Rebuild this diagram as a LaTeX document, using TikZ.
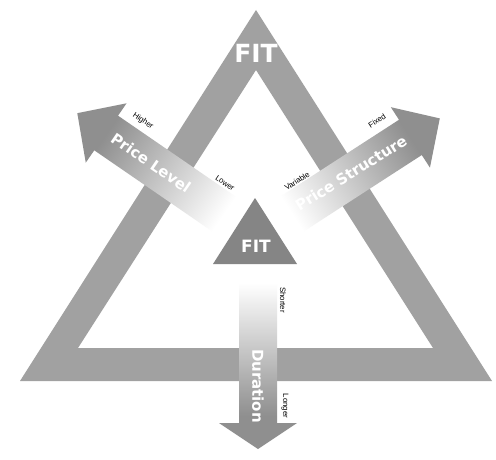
\documentclass[tikz,border=0pt]{standalone}
\usepackage{fontspec}
\setmainfont{DejaVu Sans}
\newfontfamily\labelfont{Liberation Sans}
\definecolor{bandgray}{HTML}{A1A1A1}
\definecolor{coregray}{HTML}{858585}
\definecolor{arrowgray}{HTML}{8F8F8F}
\pgfdeclarehorizontalshading{arrowfade}{100bp}{color(0bp)=(white); color(25bp)=(white); color(65bp)=(arrowgray); color(100bp)=(arrowgray)}
\begin{document}
\begin{tikzpicture}[x=1pt,y=-1pt,
  bigtxt/.style={text=white, font=\bfseries\fontsize{15}{15}\selectfont, inner sep=0pt},
  fitbig/.style={text=white, font=\bfseries\fontsize{25}{25}\selectfont, inner sep=0pt},
  fitsmall/.style={text=white, font=\bfseries\fontsize{17}{17}\selectfont, inner sep=0pt},
  tag/.style={text=black, font=\labelfont\fontsize{7.8}{7.8}\selectfont, fill=white, inner sep=0.5pt}]
\fill[white] (0,0) rectangle (496,460);
% outer FIT band
\fill[bandgray, even odd rule] (256,10) -- (20,381) -- (492,381) -- cycle
  (256,70) -- (78,348) -- (433,348) -- cycle;
% inner FIT triangle
\fill[coregray] (255,198) -- (213,264) -- (297,264) -- cycle;
% Price Level arrow
\begin{scope}[transform canvas={shift={(224,214)},rotate=145.5}]
\shade[shading=arrowfade] (0,-21) -- (143,-21) -- (143,-36) -- (178,0) -- (143,36) -- (143,21) -- (0,21) -- cycle;
\end{scope}
% Price Structure arrow
\begin{scope}[transform canvas={shift={(292,214)},rotate=32.9}]
\shade[shading=arrowfade] (0,-21) -- (141,-21) -- (141,-36) -- (176,0) -- (141,36) -- (141,21) -- (0,21) -- cycle;
\end{scope}
% Duration arrow
\begin{scope}[transform canvas={shift={(258,283)},rotate=-90}]
\shade[shading=arrowfade] (0,-19) -- (140,-19) -- (140,-39) -- (166,0) -- (140,39) -- (140,19) -- (0,19) -- cycle;
\end{scope}
% texts
\node[fitbig] (fittop) at (256,53) {FIT};
\node[fitsmall] (fitcore) at (256,246) {FIT};
\node[bigtxt, rotate=-34.5] (pl) at (151,163) {Price Level};
\node[bigtxt, rotate=32] (ps) at (351,173) {Price Structure};
\node[bigtxt, rotate=-90] (du) at (258,386) {Duration};
\node[tag, rotate=-34.5] (hi) at (143,121) {Higher};
\node[tag, rotate=-34.5] (lo) at (225,183) {Lower};
\node[tag, rotate=33] (fx) at (377,121) {Fixed};
\node[tag, rotate=33] (va) at (297,181) {Variable};
\node[tag, rotate=-90] (sh) at (283,300) {Shorter};
\node[tag, rotate=-90] (lg) at (285,406) {Longer};
\pgfresetboundingbox
\useasboundingbox (0,0) rectangle (496,460);
\end{tikzpicture}
\end{document}
